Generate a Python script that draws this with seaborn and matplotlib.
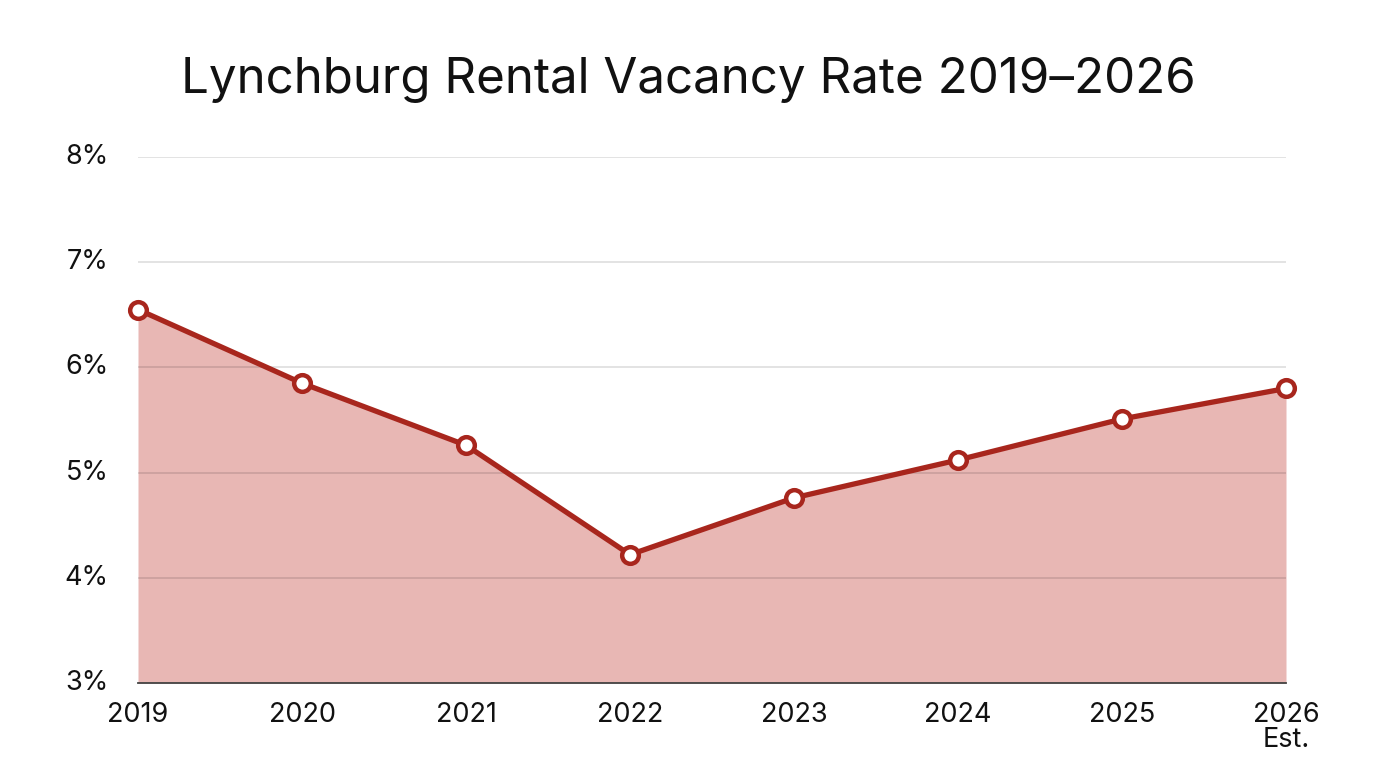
import matplotlib
matplotlib.use("Agg")
import matplotlib.pyplot as plt
import seaborn as sns
import pandas as pd
from matplotlib.ticker import FuncFormatter

years = [2019, 2020, 2021, 2022, 2023, 2024, 2025, 2026]
year_labels = ["2019", "2020", "2021", "2022", "2023", "2024", "2025", "2026\nEst."]
vacancy = [6.55, 5.85, 5.26, 4.22, 4.76, 5.12, 5.51, 5.80]
yticks = [3, 4, 5, 6, 7, 8]

sns.set_theme(style="white")
plt.rcParams["font.family"] = ["Inter", "DejaVu Sans"]

df = pd.DataFrame({"year": years, "rate": vacancy})

fig = plt.figure(figsize=(13.76, 7.68), dpi=100)
ax = fig.add_axes([138/1376, 1 - 683/768, (1286-138)/1376, (683-157)/768])

line_color = "#a8261d"
ax.fill_between(df["year"], 3, df["rate"], color="#e8b7b4", zorder=1, linewidth=0)
sns.lineplot(data=df, x="year", y="rate", ax=ax, color=line_color, linewidth=3.8,
             marker="o", markersize=12, markerfacecolor="white",
             markeredgecolor=line_color, markeredgewidth=3.2, zorder=3, clip_on=False)

ax.set_xlim(2019, 2026)
ax.set_ylim(3, 8)
ax.set_yticks(yticks)
ax.yaxis.set_major_formatter(FuncFormatter(lambda v, p: f"{v:.0f}%"))
ax.set_xticks(years)
ax.set_xticklabels(year_labels, linespacing=0.95)
ax.tick_params(axis="both", labelsize=19.5, colors="#111111", length=0)
ax.tick_params(axis="y", pad=21)
ax.tick_params(axis="x", pad=14)
ax.set_xlabel("")
ax.set_ylabel("")

ax.set_axisbelow("line")
ax.yaxis.grid(True, color="black", alpha=0.14, linewidth=1.1)
ax.xaxis.grid(False)
for s in ["left", "right", "top"]:
    ax.spines[s].set_visible(False)
ax.spines["bottom"].set_color("#444444")
ax.spines["bottom"].set_linewidth(1.3)
ax.spines["bottom"].set_zorder(2.5)

for lbl in ax.get_yticklabels():
    lbl.set_verticalalignment("center")

fig.text(0.5, 1 - 80/768, "Lynchburg Rental Vacancy Rate 2019\u20132026",
         ha="center", va="center", fontsize=35.5, color="#111111")

fig.savefig("out.png", dpi=100)
